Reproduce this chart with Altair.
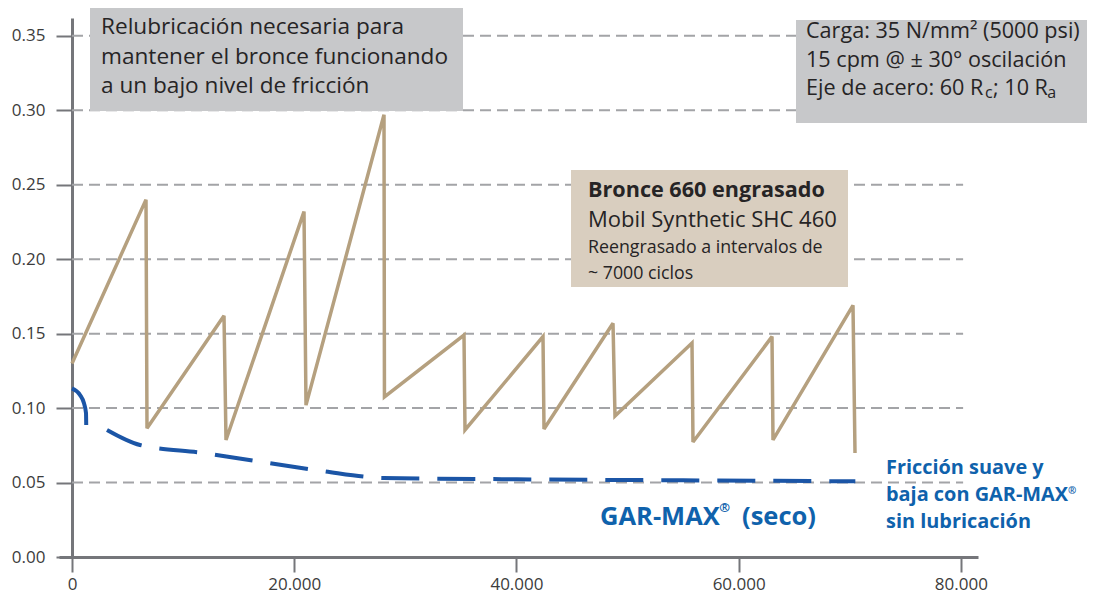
import altair as alt
import pandas as pd

# ---------------- data ----------------
cycles_ticks = [0, 20000, 40000, 60000, 80000]
friction_ticks = [0.00, 0.05, 0.10, 0.15, 0.20, 0.25, 0.30, 0.35]

# Bronce 660 engrasado (Mobil SHC 460), re-greased every ~7000 cycles
bronze_cycles = [0, 6660, 6750, 13680, 13860, 20880, 21060, 28080, 28120,
                 35280, 35370, 42390, 42480, 48690, 48870, 55800, 55890,
                 63000, 63090, 70290, 70470]
bronze_friction = [0.130, 0.240, 0.0865, 0.162, 0.0786, 0.232, 0.102, 0.297,
                   0.1075, 0.149, 0.0853, 0.148, 0.086, 0.157, 0.0947, 0.1437,
                   0.0772, 0.148, 0.0786, 0.169, 0.0699]

# GAR-MAX (dry): short run-in (solid) then dashed curve
garmax_runin_cycles = [0, 720, 1080, 1260, 1280]
garmax_runin_friction = [0.1133, 0.1088, 0.1032, 0.0967, 0.0887]
garmax_cycles = [3150, 6120, 11790, 17100, 22500, 28000, 40000, 55000, 70500]
garmax_friction = [0.0853, 0.0752, 0.0699, 0.0638, 0.0578, 0.0531, 0.0522,
                   0.0515, 0.0508]

grid_values = friction_ticks[1:]

# ---------------- styling ----------------
FONT = "Open Sans"
AXIS_GRAY = "#75767a"
GRID_GRAY = "#a3a4a7"
TEXT_DARK = "#262425"
LABEL_COLOR = "#3c3c3c"
BRONZE = "#b5a07f"
BLUE_LINE = "#1b55a6"
BLUE_TEXT = "#0f62ac"
GRID_START, GRID_END = 0, 80200

xscale = alt.Scale(domain=[-1170, 81540], nice=False, zero=False)
yscale = alt.Scale(domain=[0, 0.362], nice=False, zero=False)

xaxis = alt.Axis(
    values=cycles_ticks, title=None, grid=False,
    labelExpr="replace(format(datum.value, ','), ',', '.')",
    domainColor=AXIS_GRAY, domainWidth=3, tickColor=AXIS_GRAY, tickWidth=2,
    tickSize=15, labelFont=FONT, labelFontSize=17, labelColor=LABEL_COLOR,
    labelPadding=4, labelFlush=False,
)
yaxis = alt.Axis(
    values=friction_ticks, format=".2f", title=None, grid=False, offset=-13,
    domainColor=AXIS_GRAY, domainWidth=3, tickColor=AXIS_GRAY, tickWidth=2,
    tickSize=16, labelFont=FONT, labelFontSize=17, labelColor=LABEL_COLOR,
    labelPadding=11,
)


def X(field):
    return alt.X(field, scale=xscale, axis=xaxis)


def Y(field):
    return alt.Y(field, scale=yscale, axis=yaxis)


# ---------------- layers ----------------
grid_df = pd.DataFrame({
    "friccion": grid_values,
    "x0": [GRID_START] * len(grid_values),
    "x1": [GRID_END] * len(grid_values),
})
grid = alt.Chart(grid_df).mark_rule(
    color=GRID_GRAY, strokeWidth=2, strokeDash=[11, 6]
).encode(x=X("x0:Q"), x2="x1:Q", y=Y("friccion:Q"))

boxes_df = pd.DataFrame({
    "x": [1620, 65160, 44910],
    "x2": [35190, 91350, 69840],
    "y": [0.3687, 0.3607, 0.2599],
    "y2": [0.2995, 0.2915, 0.1813],
    "fill": ["#c7c8ca", "#c7c8ca", "#d9cebf"],
})
boxes = alt.Chart(boxes_df).mark_rect().encode(
    x=X("x:Q"), x2="x2:Q", y=Y("y:Q"), y2="y2:Q",
    fill=alt.Fill("fill:N", scale=None),
)

bronze_df = pd.DataFrame({
    "ciclos": bronze_cycles, "friccion": bronze_friction,
    "orden": list(range(len(bronze_cycles))),
})
bronze = alt.Chart(bronze_df).mark_line(
    color=BRONZE, strokeWidth=3.5, strokeJoin="miter", strokeMiterLimit=3
).encode(x=X("ciclos:Q"), y=Y("friccion:Q"), order="orden:Q")

runin_df = pd.DataFrame({
    "ciclos": garmax_runin_cycles, "friccion": garmax_runin_friction,
    "orden": list(range(len(garmax_runin_cycles))),
})
runin = alt.Chart(runin_df).mark_line(
    color=BLUE_LINE, strokeWidth=4, interpolate="monotone"
).encode(x=X("ciclos:Q"), y=Y("friccion:Q"), order="orden:Q")

garmax_df = pd.DataFrame({"ciclos": garmax_cycles, "friccion": garmax_friction})
garmax = alt.Chart(garmax_df).mark_line(
    color=BLUE_LINE, strokeWidth=4, strokeDash=[38, 18], interpolate="monotone"
).encode(x=X("ciclos:Q"), y=Y("friccion:Q"))

# annotation texts (positions in data units: cycles, friction)
normal_text = pd.DataFrame({
    "t": ["Relubricación necesaria para",
          "mantener el bronce funcionando",
          "a un bajo nivel de fricción",
          "Carga: 35 N/mm² (5000 psi)",
          "15 cpm @ ± 30° oscilación",
          "Eje de acero: 60 R", "c", "; 10 R", "a",
          "Mobil Synthetic SHC 460",
          "Reengrasado a intervalos de",
          "~ 7000 ciclos"],
    "x": [2610, 2610, 2610, 66060, 66060,
          66060, 82170, 82890, 87780,
          46440, 46440, 46440],
    "y": [0.3513, 0.3311, 0.3116, 0.3486, 0.3291,
          0.3103, 0.3083, 0.3103, 0.3083,
          0.2216, 0.2042, 0.1867],
    "s": [22.6, 22.6, 22.6, 21.6, 21.6,
          21.6, 16, 21.6, 16,
          22, 17.8, 17.8],
})
bold_text = pd.DataFrame({
    "t": ["Bronce 660 engrasado"], "x": [46440], "y": [0.2418], "s": [21.6],
})
blue_text = pd.DataFrame({
    "t": ["GAR-MAX", "®", "(seco)",
          "Fricción suave y", "baja con GAR-MAX", "®", "sin lubricación"],
    "x": [47520, 58260, 60300, 73260, 73260, 89640, 73260],
    "y": [0.0215, 0.0302, 0.0215, 0.0557, 0.0376, 0.0423, 0.0195],
    "s": [25.5, 13, 25.5, 19.9, 19.9, 10, 19.9],
})


def text_layer(df, color, weight):
    return alt.Chart(df).mark_text(
        align="left", baseline="alphabetic", font=FONT, fontWeight=weight,
        color=color,
    ).encode(
        x=X("x:Q"), y=Y("y:Q"),
        text="t:N",
        size=alt.Size("s:Q", scale=None),
    )


chart = alt.layer(
    grid, boxes, bronze, runin, garmax,
    text_layer(normal_text, TEXT_DARK, "normal"),
    text_layer(bold_text, TEXT_DARK, "bold"),
    text_layer(blue_text, BLUE_TEXT, "bold"),
).properties(
    width=919, height=539,
    padding={"left": 51, "top": 10, "right": 109, "bottom": 35},
    autosize=alt.AutoSizeParams(type="none"),
    background="white",
).configure_view(stroke=None)

chart.save("out.html", embed_options={"renderer": "svg", "actions": False})
